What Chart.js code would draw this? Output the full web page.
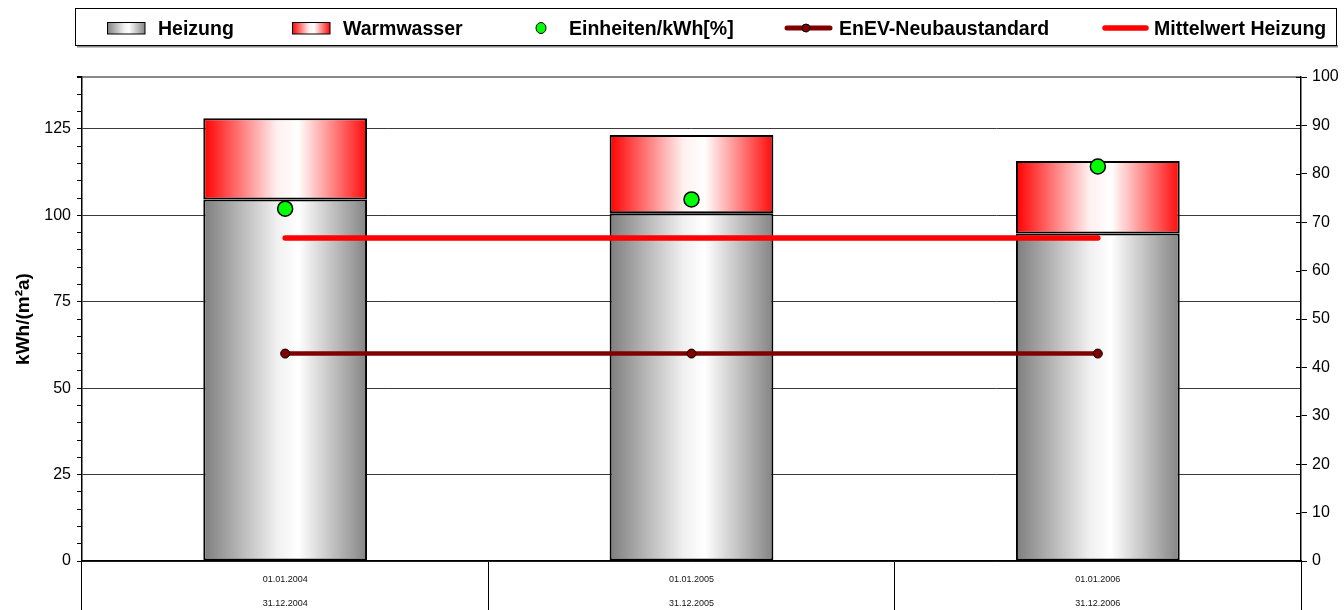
<!DOCTYPE html>
<html>
<head>
<meta charset="utf-8">
<script src="https://cdn.jsdelivr.net/npm/chart.js@4.4.1/dist/chart.umd.min.js"></script>
<style>
  html, body { margin: 0; padding: 0; background: #fff; }
  #wrap { width: 1344px; height: 610px; position: relative; }
</style>
</head>
<body>
<div id="wrap"><canvas id="c"></canvas></div>
<script>
// Abrechnungszeiträume (zweizeilige Achsenbeschriftung)
const periodStart = ['01.01.2004', '01.01.2005', '01.01.2006'];
const periodEnd   = ['31.12.2004', '31.12.2005', '31.12.2006'];

// Verbrauchswerte in kWh/(m²a)
const heizung    = [104.6, 100.6, 94.7];
const warmwasser = [23.5, 22.6, 21.0];

// Einheiten/kWh in Prozent (rechte Achse)
const einheiten = [72.8, 74.7, 81.5];

// Referenzlinien in kWh/(m²a)
const enev       = [60, 60, 60];
const mittelwert = [93.4, 93.4, 93.4];

// Achsenbereiche und Schrittweiten
const leftMax = 140, leftStep = 5, leftLabelStep = 25, leftLabelMax = 125;
const rightMax = 100, rightStep = 10;

const FONT = '"Liberation Sans", Arial, sans-serif';
const BAR_PCT = 0.403;

const grayStops = [[0, '#7e7e7e'], [0.45, '#f0f0f0'], [0.58, '#ffffff'], [1, '#848484']];
const redStops  = [[0, '#ff0000'], [0.45, '#fff0f0'], [0.58, '#ffffff'], [1, '#ff0a0a']];

function hGradient(c2d, x0, x1, stops) {
  const g = c2d.createLinearGradient(x0, 0, x1, 0);
  stops.forEach(([o, col]) => g.addColorStop(o, col));
  return g;
}

// Balkenfüllung: horizontaler Verlauf über die Breite des jeweiligen Balkens
function barFill(stops) {
  return (ctx) => {
    const chart = ctx.chart;
    const xs = chart.scales.x;
    if (!chart.chartArea || !xs || ctx.type !== 'data') return stops[0][1];
    const cx = xs.getPixelForValue(ctx.dataIndex);
    const half = xs.width / chart.data.labels.length * BAR_PCT / 2;
    return hGradient(chart.ctx, cx - half, cx + half, stops);
  };
}

// Legende im Rahmen oberhalb des Diagramms
const legendBox = {
  id: 'legendBox',
  afterDraw(chart) {
    const c = chart.ctx;
    const ds = chart.data.datasets;
    c.save();
    // Rahmen mit leichtem Schatten
    c.fillStyle = '#8a8a8a';
    c.fillRect(77, 45, 1261, 2.5);
    c.strokeStyle = '#000';
    c.lineWidth = 1;
    c.fillStyle = '#fff';
    c.fillRect(75.5, 8.5, 1261, 37);
    c.strokeRect(75.5, 8.5, 1261, 37);

    const midY = 28;
    c.font = 'bold 19.5px ' + FONT;
    c.fillStyle = '#000';
    c.textBaseline = 'alphabetic';
    const textX = [158, 343, 569, 839, 1154];

    // Heizung
    c.fillStyle = hGradient(c, 107, 145, grayStops);
    c.fillRect(107, 22, 38, 12);
    c.strokeRect(107.5, 22.5, 37.5, 11.5);
    // Warmwasser
    c.fillStyle = hGradient(c, 292, 330, redStops);
    c.fillRect(292, 22, 38, 12);
    c.strokeRect(292.5, 22.5, 37.5, 11.5);
    // Einheiten/kWh[%]
    c.beginPath();
    c.ellipse(541, midY, 5, 5.5, 0, 0, Math.PI * 2);
    c.fillStyle = ds[2].backgroundColor;
    c.fill();
    c.lineWidth = 1;
    c.stroke();
    // EnEV-Neubaustandard
    c.beginPath();
    c.moveTo(787, midY); c.lineTo(830, midY);
    c.strokeStyle = ds[3].borderColor;
    c.lineWidth = 5;
    c.lineCap = 'round';
    c.stroke();
    c.beginPath();
    c.arc(806, midY, 4, 0, Math.PI * 2);
    c.fillStyle = ds[3].pointBackgroundColor;
    c.fill();
    c.strokeStyle = '#000';
    c.lineWidth = 1;
    c.stroke();
    // Mittelwert Heizung
    c.beginPath();
    c.moveTo(1105, midY); c.lineTo(1146, midY);
    c.strokeStyle = ds[4].borderColor;
    c.lineWidth = 5.5;
    c.stroke();

    c.fillStyle = '#000';
    ds.forEach((d, i) => c.fillText(d.label, textX[i], 34.5));
    c.restore();
  }
};

// Teilstriche der rechten Achse, die nach innen in die Fläche reichen
const innerTicks = {
  id: 'innerTicks',
  afterDraw(chart) {
    const s = chart.scales.y1;
    const c = chart.ctx;
    c.save();
    c.strokeStyle = '#000';
    c.lineWidth = 1;
    s.ticks.forEach(t => {
      const y = Math.round(s.getPixelForValue(t.value)) + 0.5;
      c.beginPath();
      c.moveTo(s.left - 5, y);
      c.lineTo(s.left, y);
      c.stroke();
    });
    c.restore();
  }
};

new Chart(document.getElementById('c'), {
  type: 'bar',
  data: {
    labels: periodStart.map((s, i) => [s, periodEnd[i]]),
    datasets: [
      {
        label: 'Heizung',
        data: heizung,
        stack: 'verbrauch',
        yAxisID: 'y',
        backgroundColor: barFill(grayStops),
        borderColor: '#000',
        borderWidth: 2,
        borderSkipped: false,
        barPercentage: BAR_PCT,
        categoryPercentage: 1,
        order: 3
      },
      {
        label: 'Warmwasser',
        data: warmwasser,
        stack: 'verbrauch',
        yAxisID: 'y',
        backgroundColor: barFill(redStops),
        borderColor: '#000',
        borderWidth: 2,
        borderSkipped: false,
        barPercentage: BAR_PCT,
        categoryPercentage: 1,
        order: 3
      },
      {
        type: 'line',
        label: 'Einheiten/kWh[%]',
        data: einheiten,
        yAxisID: 'y1',
        showLine: false,
        backgroundColor: '#00ff00',
        pointBackgroundColor: '#00ff00',
        pointBorderColor: '#000',
        pointBorderWidth: 1.5,
        pointRadius: 7.5,
        order: 0
      },
      {
        type: 'line',
        label: 'EnEV-Neubaustandard',
        data: enev,
        stack: 'enev',
        yAxisID: 'y',
        borderColor: '#800000',
        borderWidth: 4.5,
        pointBackgroundColor: '#800000',
        pointBorderColor: '#000',
        pointBorderWidth: 1,
        pointRadius: 4.5,
        order: 1
      },
      {
        type: 'line',
        label: 'Mittelwert Heizung',
        data: mittelwert,
        stack: 'mittel',
        yAxisID: 'y',
        borderColor: '#ff0000',
        borderWidth: 5.5,
        borderCapStyle: 'round',
        pointRadius: 0,
        order: 2
      }
    ]
  },
  options: {
    responsive: true,
    maintainAspectRatio: false,
    animation: false,
    layout: { padding: { top: 77, left: 0, right: 0, bottom: 0 } },
    plugins: {
      legend: { display: false },
      tooltip: { enabled: false }
    },
    scales: {
      x: {
        stacked: true,
        grid: {
          offset: true,
          drawOnChartArea: false,
          tickLength: 49,
          color: '#000',
          lineWidth: 1
        },
        border: { display: true, color: '#000', width: 1.5 },
        ticks: {
          autoSkip: false,
          maxRotation: 0,
          padding: -42,
          color: '#111',
          font: { family: FONT, size: 9, lineHeight: 2.6 }
        },
        afterFit: s => { s.height = 49; }
      },
      y: {
        stacked: true,
        position: 'left',
        min: 0,
        max: leftMax,
        grid: {
          color: ctx => {
            const v = ctx.tick && ctx.tick.value;
            if (v === leftMax) return '#8a8a8a';
            return v % leftLabelStep === 0 ? '#3a3a3a' : 'rgba(0,0,0,0)';
          },
          tickColor: '#000',
          tickLength: 5,
          lineWidth: ctx => (ctx.tick && ctx.tick.value === leftMax) ? 2 : 1
        },
        border: { color: '#000', width: 1.5 },
        ticks: {
          stepSize: leftStep,
          autoSkip: false,
          maxTicksLimit: 100,
          padding: 6,
          color: '#000',
          font: { family: FONT, size: 16 },
          callback: v => (v % leftLabelStep === 0 && v <= leftLabelMax) ? v : ''
        },
        title: {
          display: true,
          text: 'kWh/(m²a)',
          color: '#000',
          font: { family: FONT, size: 19, weight: 'bold' },
          padding: { top: 12, bottom: 0 }
        },
        afterFit: s => { s.width = 82; }
      },
      y1: {
        position: 'right',
        min: 0,
        max: rightMax,
        grid: {
          drawOnChartArea: false,
          color: '#000',
          tickColor: '#000',
          tickLength: 6
        },
        border: { color: '#000', width: 1.5 },
        ticks: {
          stepSize: rightStep,
          padding: 5,
          color: '#000',
          font: { family: FONT, size: 16 }
        },
        afterFit: s => { s.width = 43; }
      }
    }
  },
  plugins: [legendBox, innerTicks]
});
</script>
</body>
</html>
